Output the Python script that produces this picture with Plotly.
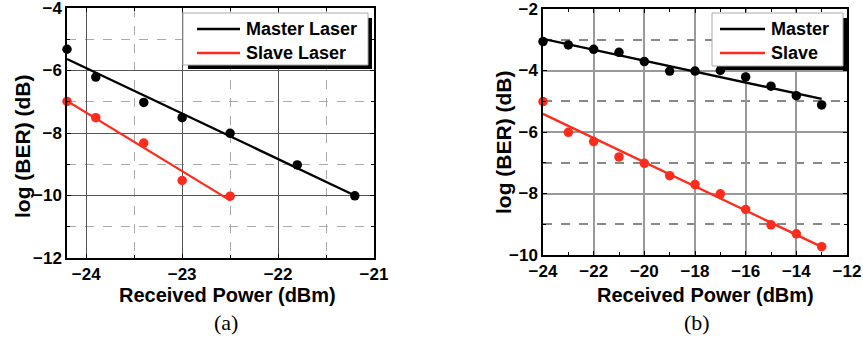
import numpy as np
import plotly.graph_objects as go

W, H = 863, 337

# Panel (a)
a_x_master = [-24.2, -23.9, -23.4, -23.0, -22.5, -21.8, -21.2]
a_y_master = [-5.32, -6.21, -7.02, -7.51, -8.01, -9.02, -10.01]
a_x_slave = [-24.2, -23.9, -23.4, -23.0, -22.5]
a_y_slave = [-6.99, -7.51, -8.32, -9.52, -10.02]

# Panel (b)
b_x = [-24, -23, -22, -21, -20, -19, -18, -17, -16, -15, -14, -13]
b_y_master = [-3.06, -3.17, -3.31, -3.41, -3.71, -4.02, -4.02, -4.0, -4.21, -4.51, -4.82, -5.12]
b_y_slave = [-5.01, -6.01, -6.31, -6.81, -7.02, -7.42, -7.71, -8.01, -8.52, -9.02, -9.31, -9.73]

legend_a = ["Master Laser", "Slave Laser"]
legend_b = ["Master", "Slave"]
x_title = "Received Power (dBm)"
y_title = "log (BER) (dB)"
captions = ["(a)", "(b)"]

BLACK = "#000000"
RED = "#ff2b1c"


def fit(xs, ys):
    k, b = np.polyfit(xs, ys, 1)
    xx = np.array([min(xs), max(xs)])
    return xx, k * xx + b


def px(x):
    return x / W


def py(y):
    return 1 - y / H


fig = go.Figure()


def add_series(xs, ys, name, color, xa, ya):
    fx, fy = fit(xs, ys)
    fig.add_trace(go.Scatter(x=fx, y=fy, mode="lines", name=name,
                             line=dict(color=color, width=2.3),
                             xaxis=xa, yaxis=ya, showlegend=False))
    fig.add_trace(go.Scatter(x=xs, y=ys, mode="markers", name=name,
                             marker=dict(color=color, size=9.5),
                             xaxis=xa, yaxis=ya, showlegend=False, cliponaxis=False))


add_series(a_x_master, a_y_master, legend_a[0], BLACK, "x", "y")
add_series(a_x_slave, a_y_slave, legend_a[1], RED, "x", "y")
add_series(b_x, b_y_master, legend_b[0], BLACK, "x2", "y2")
add_series(b_x, b_y_slave, legend_b[1], RED, "x2", "y2")

FONT = "Arial, Liberation Sans"
tickfont = dict(family=FONT, size=17, color="black", weight="bold")
xtitlefont = dict(family=FONT, size=20, color="black", weight="bold")
ytitlefont = dict(family=FONT, size=21, color="black", weight="bold")
legfont = dict(family=FONT, size=18, color="black", weight="bold")

common = dict(showline=True, linecolor="black", linewidth=1.5, mirror="ticks",
              ticks="inside", ticklen=4, tickcolor="black", tickwidth=1,
              tickfont=tickfont, zeroline=False, automargin=False,
              ticklabeloverflow="allow")

fig.update_layout(
    width=W, height=H, margin=dict(l=0, r=0, t=0, b=0, autoexpand=False),
    paper_bgcolor="white", plot_bgcolor="white", showlegend=False,
    xaxis=dict(domain=[px(67), px(374)], range=[-24.2, -21], dtick=1, tick0=-24,
               showgrid=True, gridcolor="#555555", gridwidth=1,
               minor=dict(dtick=0.5, tick0=-24, ticklen=3, ticks="inside", tickcolor="black",
                          showgrid=True, gridcolor="#aaaaaa", griddash="dash", gridwidth=1),
               anchor="y", **common),
    yaxis=dict(domain=[py(258), py(8)], range=[-12, -4], dtick=2, tick0=-12,
               showgrid=True, gridcolor="#555555", gridwidth=1,
               minor=dict(dtick=1, ticklen=3, ticks="inside", tickcolor="black",
                          showgrid=True, gridcolor="#aaaaaa", griddash="dash", gridwidth=1),
               anchor="x", **common),
    xaxis2=dict(domain=[px(543), px(847)], range=[-24, -12], dtick=2, tick0=-24,
                showgrid=True, gridcolor="#999999", gridwidth=1.5,
                minor=dict(dtick=1, ticklen=3, ticks="inside", tickcolor="black", showgrid=False),
                anchor="y2", **common),
    yaxis2=dict(domain=[py(255), py(9)], range=[-10, -2], dtick=2, tick0=-10,
                showgrid=True, gridcolor="#999999", gridwidth=1.5,
                minor=dict(dtick=1, ticklen=3, ticks="inside", tickcolor="black",
                           showgrid=True, gridcolor="#888888", griddash="dash", gridwidth=1.5),
                anchor="x2", **common),
)


# legends drawn as boxes with drop shadow
def draw_legend(x0, x1, y0, y1, names, colors, lx0, lx1, ys):
    fig.add_shape(type="rect", xref="paper", yref="paper", layer="above",
                  x0=px(x0 + 5), x1=px(x1 + 4), y0=py(y1 + 4), y1=py(y0 + 5),
                  fillcolor="black", line=dict(width=0))
    fig.add_shape(type="rect", xref="paper", yref="paper", layer="above",
                  x0=px(x0), x1=px(x1), y0=py(y1), y1=py(y0),
                  fillcolor="white", line=dict(color="#aaaaaa", width=1))
    for name, color, yy in zip(names, colors, ys):
        fig.add_shape(type="line", xref="paper", yref="paper", layer="above",
                      x0=px(lx0), x1=px(lx1), y0=py(yy), y1=py(yy),
                      line=dict(color=color, width=2.5))
        fig.add_annotation(text=name, xref="paper", yref="paper", x=px(lx1 + 4), y=py(yy),
                           showarrow=False, xanchor="left", yanchor="middle", font=legfont)


draw_legend(183, 368, 13, 65, legend_a, [BLACK, RED], 197, 240, [29, 53])
draw_legend(712, 843, 13, 66, legend_b, [BLACK, RED], 720, 765, [29, 53])

# axis titles
for cx in [227, 705]:
    fig.add_annotation(text=x_title, xref="paper", yref="paper", x=px(cx), y=py(295),
                       showarrow=False, xanchor="center", yanchor="middle", font=xtitlefont)
for cx, cy in [(22, 147), (503, 143)]:
    fig.add_annotation(text=y_title, xref="paper", yref="paper", x=px(cx), y=py(cy),
                       showarrow=False, xanchor="center", yanchor="middle", textangle=-90,
                       font=ytitlefont)

for text, cx in zip(captions, [226, 697]):
    fig.add_annotation(text=text, xref="paper", yref="paper", x=px(cx), y=py(322),
                       showarrow=False, xanchor="center", yanchor="middle",
                       font=dict(family="Liberation Serif, Times New Roman", size=22, color="black"))

fig.write_html("out.html")
